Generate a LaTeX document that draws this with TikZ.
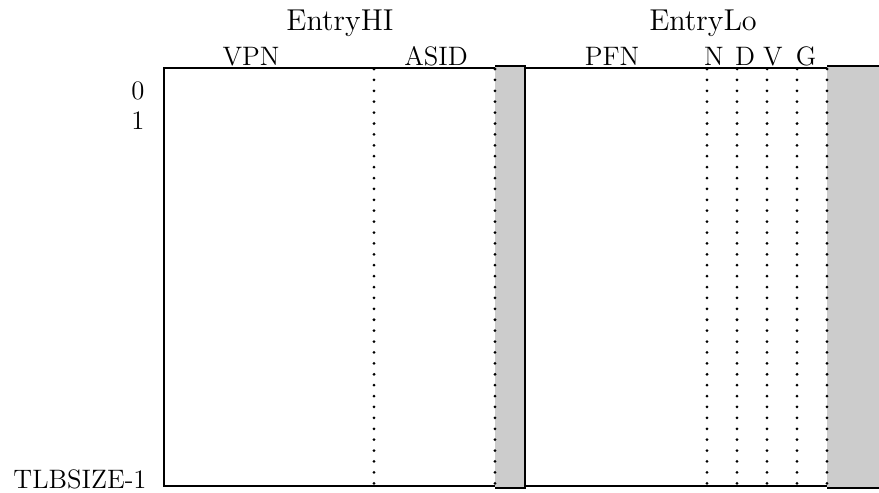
\documentclass[tikz,border=0pt]{standalone}
\begin{document}
\begin{tikzpicture}[x=0.01515cm,y=-0.01515cm,
  frame/.style={line width=1.2pt},
  sep/.style={line width=1.3pt, dash pattern=on 0pt off 4.7pt, line cap=round},
  bar/.style={fill=black!20},
  head/.style={anchor=base, inner sep=0pt, font=\fontsize{13}{16}\selectfont},
  field/.style={anchor=base, inner sep=0pt, font=\fontsize{11.5}{14}\selectfont},
  row/.style={anchor=base east, inner sep=0pt, font=\fontsize{11.5}{14}\selectfont}]
\useasboundingbox (0,0) rectangle (879,493);
% shaded bars
\fill[bar] (495,66) rectangle (525,488);
\fill[bar] (827,66) rectangle (879,488);
% field separators
\foreach \x in {374,495,707,737,767,797,827}
  \draw[sep] (\x,69) -- (\x,490);
\draw[frame] (495,66) -- (525,66) -- (525,488) -- (495,488);
\draw[frame] (879,66) -- (827,66);
\draw[frame] (827,488) -- (879,488);
% table outline
\draw[frame] (495,68) -- (164,68) -- (164,486) -- (495,486);
\draw[frame] (525,68) -- (827,68);
\draw[frame] (525,486) -- (827,486);
% headings
\node[head] (hi) at (340,31) {EntryHI};
\node[head] (lo) at (703,31) {EntryLo};
\node[field] (vpn) at (251,66) {VPN};
\node[field] (asid) at (436,66) {ASID};
\node[field] (pfn) at (612,66) {PFN};
\node[field] (n) at (714,66) {N};
\node[field] (d) at (745,66) {D};
\node[field] (v) at (773,66) {V};
\node[field] (g) at (806,66) {G};
% row numbers
\node[row] (r0) at (145,100) {0};
\node[row] (r1) at (145,130) {1};
\node[row] (rn) at (147,489) {TLBSIZE-1};
\end{tikzpicture}
\end{document}
